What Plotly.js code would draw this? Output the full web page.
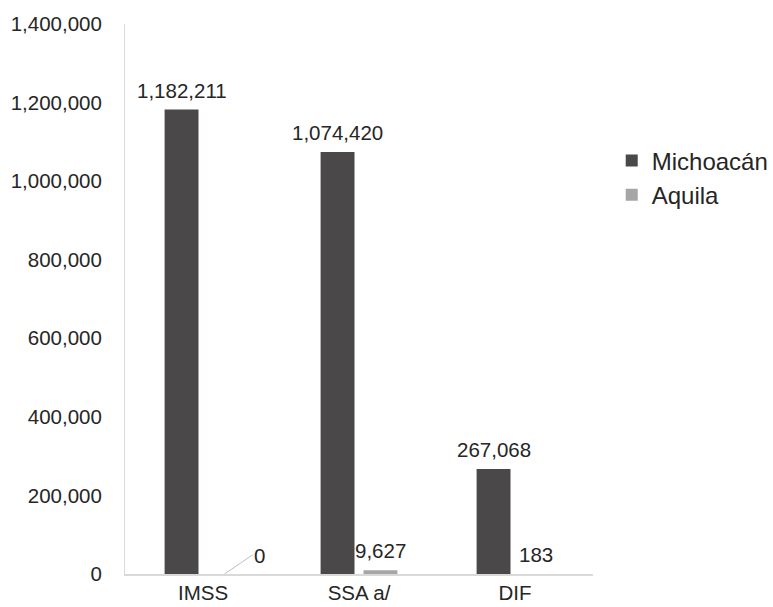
<!DOCTYPE html>
<html>
<head>
<meta charset="utf-8">
<script src="https://cdn.plot.ly/plotly-3.0.1.min.js"></script>
<style>html,body{margin:0;padding:0;background:#fff;}#chart{width:773px;height:607px;}</style>
</head>
<body>
<div id="chart"></div>
<script>
const categories = ["IMSS", "SSA a/", "DIF"];
const michoacan = [1182211, 1074420, 267068];
const aquila = [0, 9627, 183];
const seriesNames = ["Michoacán", "Aquila"];
const yTicks = [0, 200000, 400000, 600000, 800000, 1000000, 1200000, 1400000];

const fmt = v => v.toLocaleString('en-US');
const fontFam = 'Arial, "Liberation Sans", sans-serif';
const textColor = '#262626';

const BARGAP = 0.45, BARGROUPGAP = 0.21;
const slotOffset = (1 - BARGAP) / 4; // centre offset of each bar within its category

const traces = [
  {
    type: 'bar', name: seriesNames[0], x: categories, y: michoacan,
    marker: {color: '#4a4848'}, legendgroup: 'a', hoverinfo: 'x+y'
  },
  {
    type: 'bar', name: seriesNames[1], x: categories, y: aquila,
    marker: {color: '#a6a6a6'}, legendgroup: 'b', hoverinfo: 'x+y'
  }
];

const labelFont = {size: 20.5, color: textColor, family: fontFam};
const annotations = [];
michoacan.forEach((v, i) => {
  annotations.push({
    x: i - slotOffset, y: v, xref: 'x', yref: 'y', text: fmt(v), showarrow: false,
    xanchor: 'center', yanchor: 'bottom', yshift: 6, font: labelFont
  });
});
aquila.forEach((v, i) => {
  if (v === 0) {
    annotations.push({
      x: i + slotOffset, y: v, xref: 'x', yref: 'y',
      text: fmt(v), showarrow: true, arrowhead: 0, arrowwidth: 1, arrowcolor: '#bfbfbf',
      ax: 28, ay: -19, xanchor: 'left', yanchor: 'middle', font: labelFont
    });
  } else {
    annotations.push({
      x: i + slotOffset, y: v, xref: 'x', yref: 'y', text: fmt(v), showarrow: false,
      xanchor: 'center', yanchor: 'bottom', yshift: 6, font: labelFont
    });
  }
});

const layout = {
  width: 773, height: 607,
  margin: {l: 125, r: 180, t: 24, b: 33, autoexpand: false},
  paper_bgcolor: '#ffffff', plot_bgcolor: '#ffffff',
  font: {family: fontFam, size: 20.5, color: textColor},
  barmode: 'group', bargap: BARGAP, bargroupgap: BARGROUPGAP,
  showlegend: true,
  legend: {x: 1.04, xanchor: 'left', y: 0.792, yanchor: 'top', tracegroupgap: 0,
           font: {size: 24, color: textColor, family: fontFam}, itemwidth: 30},
  xaxis: {
    type: 'category', showgrid: false, showline: true, linecolor: '#d9d9d9', linewidth: 1.5,
    ticks: '', tickfont: {size: 20.5}, zeroline: false, range: [-0.5, 2.5]
  },
  yaxis: {
    range: [0, 1400000], tickvals: yTicks, ticktext: yTicks.map(fmt),
    showgrid: false, showline: true, linecolor: '#d9d9d9', linewidth: 1,
    zeroline: false, ticks: '', tickfont: {size: 20.5}, ticklabelstandoff: 18
  },
  annotations: annotations
};

Plotly.newPlot('chart', traces, layout, {displayModeBar: false, staticPlot: true});
</script>
</body>
</html>
